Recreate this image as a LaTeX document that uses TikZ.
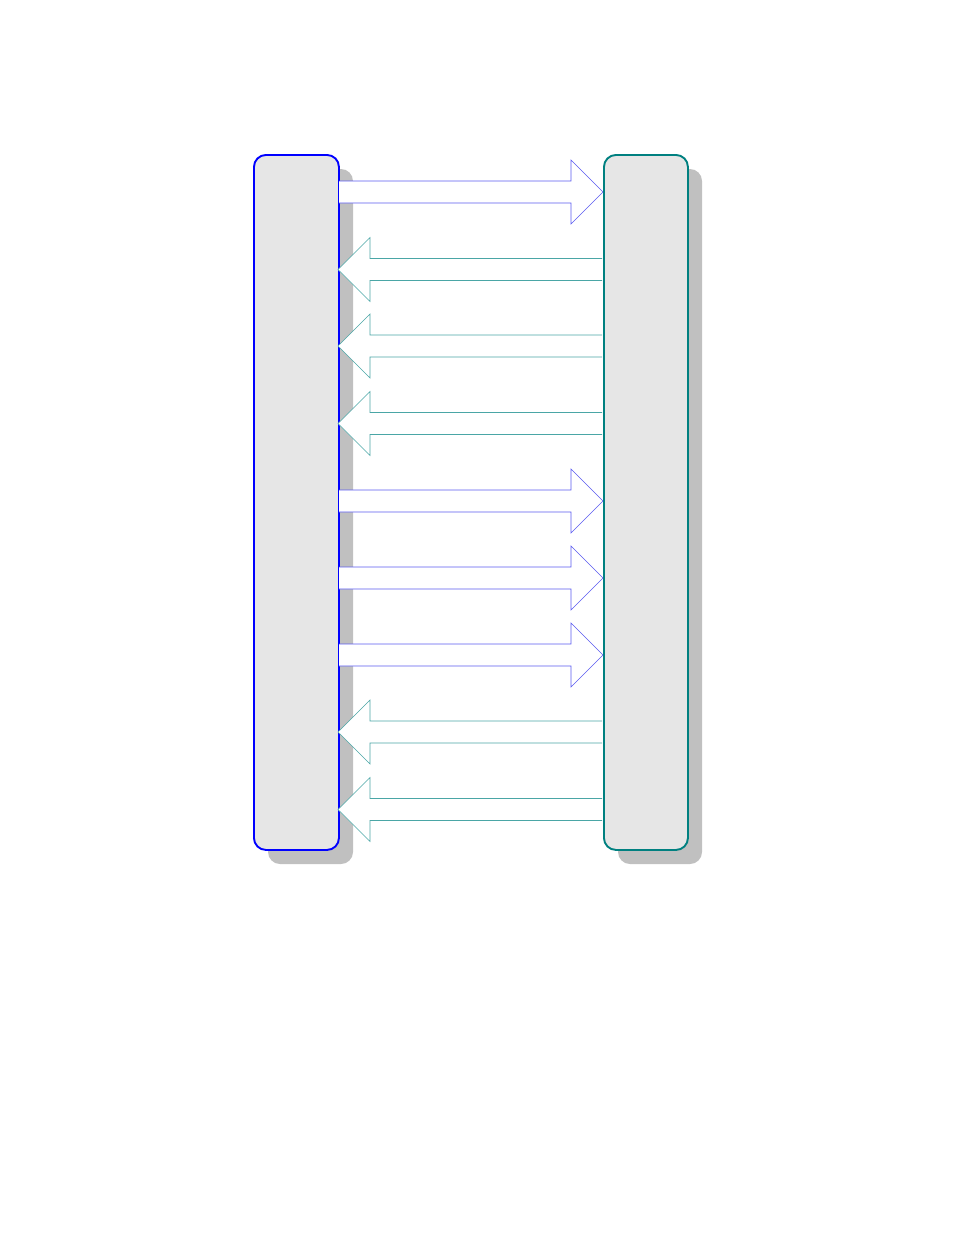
\documentclass[tikz,border=0pt]{standalone}
\definecolor{boxgray}{HTML}{E6E6E6}
\definecolor{shadowgray}{HTML}{C0C0C0}
\definecolor{tealb}{HTML}{008080}
\definecolor{rarrowc}{HTML}{5A5AF0}
\definecolor{larrowc}{HTML}{4AA6A6}
\begin{document}
\begin{tikzpicture}[x=1pt,y=-1pt,
  shadowbox/.style={fill=shadowgray, rounded corners=12pt},
  pane/.style={fill=boxgray, line width=1.9pt, rounded corners=12pt, minimum width=85pt, minimum height=695pt, inner sep=0pt, anchor=north west},
  rblock/.style={fill=white, draw=rarrowc, line width=0.6pt, line join=miter},
  lblock/.style={fill=white, draw=larrowc, line width=0.6pt, line join=miter}]
\useasboundingbox (0,0) rectangle (954,1235);
% shadows
\fill[shadowbox] (268,169) rectangle (353,864);
\fill[shadowbox] (618,169) rectangle (702,864);
% boxes
\node[pane, draw=blue] (L) at (253,154) {};
\node[pane, draw=tealb, minimum width=84pt] (R) at (603,154) {};
% right-pointing arrows
\foreach \c in {192,501,578,655}{
  \filldraw[rblock] (339,\c-11) -- (571,\c-11) -- (571,\c-32) -- (603,\c) -- (571,\c+32) -- (571,\c+11) -- (339,\c+11);
}
% left-pointing arrows
\foreach \c in {269.5,346,423.5,732,809.5}{
  \filldraw[lblock] (602,\c-11) -- (370,\c-11) -- (370,\c-32) -- (338,\c) -- (370,\c+32) -- (370,\c+11) -- (602,\c+11);
}
\end{tikzpicture}
\end{document}
